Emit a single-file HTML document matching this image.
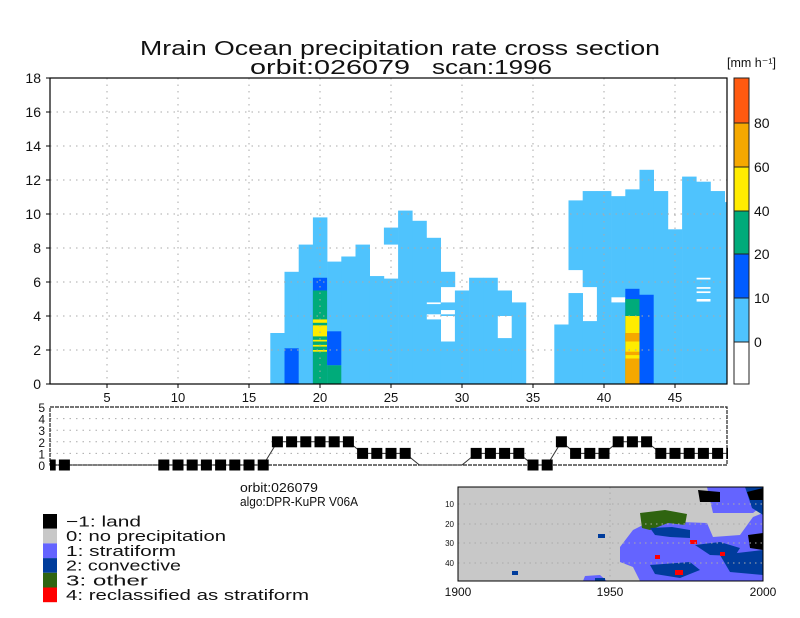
<!DOCTYPE html>
<html><head><meta charset="utf-8">
<style>
html,body{margin:0;padding:0;background:#fff;}
svg{display:block;font-family:"Liberation Sans",sans-serif;}
</style></head>
<body>
<svg id="chart" width="800" height="618" viewBox="0 0 800 618" xmlns="http://www.w3.org/2000/svg">
  <rect x="0" y="0" width="800" height="618" fill="#fff"/>
  <text x="400" y="55" text-anchor="middle" font-size="20" textLength="520" lengthAdjust="spacingAndGlyphs" fill="#111">Mrain Ocean precipitation rate cross section</text>
  <text x="250" y="74" font-size="20" textLength="160" lengthAdjust="spacingAndGlyphs" fill="#111">orbit:026079</text>
  <text x="432" y="74" font-size="20" textLength="120" lengthAdjust="spacingAndGlyphs" fill="#111">scan:1996</text>
  <g id="main"></g>
  <g id="cbar"></g>
  <g id="types"></g>
  <text x="240" y="492" font-size="12.5" textLength="78" lengthAdjust="spacingAndGlyphs" fill="#111">orbit:026079</text>
  <text x="240" y="506" font-size="12.5" textLength="118" lengthAdjust="spacingAndGlyphs" fill="#111">algo:DPR-KuPR V06A</text>
  <g id="legend"></g>
  <g id="map"></g>
</svg>
<script>
// ---------- main cross-section data ----------
const segCol  = [17,18,18,19,20,20,20,20,20,20,20,20,21,21,21,22,23,24,25,25,26,27,28,28,28,29,29,29,29,30,31,32,33,33,34,37,38,38,39,39,40,41,41,42,42,42,42,42,42,42,43,43,44,45,47,47,47,47,47,46,48,49];
const segBot  = [0,0,0,0,0,0,0,3.6,2.8,2.5,2.2,1.9,0,1.1,0,0,0,0,0,8.2,0,0,0,4.1,4.8,0,4.0,4.35,5.7,0,0,0,0,4.0,0,0,0,6.7,0,5.7,0,0,5.1,0,0,0,0,2.5,1.7,0,0,0,0,0,0,5.0,5.45,5.7,6.25,0,0,0];
const segTop  = [3.0,6.6,2.1,8.2,9.8,6.25,5.5,3.8,3.45,2.6,2.3,2.0,7.2,3.1,1.1,7.5,8.2,6.35,6.2,9.2,10.2,9.6,3.8,4.7,8.6,2.5,4.1,4.8,6.6,5.5,6.25,6.25,2.7,5.5,4.8,3.5,5.35,10.8,3.7,11.35,11.35,4.8,11.05,11.45,5.6,5.0,4.0,3.0,1.9,1.5,12.6,5.25,11.35,9.1,4.85,5.35,5.6,6.15,11.9,12.2,11.35,10.7];
const segRate = [5,5,15,5,5,15,30,50,50,50,50,50,5,15,30,5,5,5,5,5,5,5,5,5,5,5,5,5,5,5,5,5,5,5,5,5,5,5,5,5,5,5,5,5,15,30,50,70,70,70,5,15,5,5,5,5,5,5,5,5,5,5];
const yTicks = [0,2,4,6,8,10,12,14,16,18];
const xTicks = [5,10,15,20,25,30,35,40,45];
const cbLevels = [0,10,20,40,60,80];
const cbColors = ["#ffffff","#4fc3fd","#005cff","#00ab7a","#ffec00","#f5a800","#ff5a10"];
// ---------- rain type data ----------
const typeCols = [1,2,3,4,5,6,7,8,9,10,11,12,13,14,15,16,17,18,19,20,21,22,23,24,25,26,27,28,29,30,31,32,33,34,35,36,37,38,39,40,41,42,43,44,45,46,47,48,49];
const typeVals = [0,0,null,null,null,null,null,null,0,0,0,0,0,0,0,0,2,2,2,2,2,2,1,1,1,1,null,null,null,null,1,1,1,1,0,0,2,1,1,1,2,2,2,1,1,1,1,1,1];
const typeTicks = [0,1,2,3,4,5];

const NS="http://www.w3.org/2000/svg";
function mk(tag,attrs,parent){const e=document.createElementNS(NS,tag);for(const k in attrs)e.setAttribute(k,attrs[k]);parent.appendChild(e);return e;}

const PL=50,PR=727,PT=78,PB=384;
const xs=v=>107+(v-5)*14.2;
const ys=v=>PB-v*17;
function rateColor(r){let i=0;for(let k=0;k<cbLevels.length;k++){if(r>=cbLevels[k])i=k+1;}return cbColors[i];}

const main=document.getElementById('main');
const defs=mk('defs',{},main);
const cp=mk('clipPath',{id:'plotclip'},defs);
mk('rect',{x:PL,y:PT,width:PR-PL,height:PB-PT},cp);
const cells=mk('g',{'clip-path':'url(#plotclip)'},main);
for(let i=0;i<segCol.length;i++){
  const x0=xs(segCol[i]-0.5),x1=xs(segCol[i]+0.5);
  const r=mk('rect',{x:x0,y:ys(segTop[i]),width:x1-x0+0.3,height:ys(segBot[i])-ys(segTop[i]),fill:rateColor(segRate[i])},cells);
  
  
}
xTicks.forEach(t=>{
  const l=mk('line',{x1:xs(t),x2:xs(t),y1:PT,y2:PB,stroke:'#aaa','stroke-width':1,'stroke-dasharray':'1.5,5'},main);
  
  
  const tk=mk('line',{x1:xs(t),x2:xs(t),y1:PB,y2:PB+4,stroke:'#000'},main);
  
  
  const tx=mk('text',{x:xs(t),y:PB+18,'text-anchor':'middle','font-size':13,fill:'#111'},main);
  tx.textContent=t;
  
  
});
yTicks.forEach(t=>{
  if(t>0&&t<18){
    const l=mk('line',{x1:PL,x2:PR,y1:ys(t),y2:ys(t),stroke:'#aaa','stroke-width':1,'stroke-dasharray':'1.5,5'},main);
    
    
  }
  const tk=mk('line',{x1:PL-4,x2:PL,y1:ys(t),y2:ys(t),stroke:'#000'},main);
  
  
  const tx=mk('text',{x:41,y:ys(t)+5,'text-anchor':'end','font-size':14,fill:'#111'},main);
  tx.textContent=t;
  
  
});
const fr=mk('rect',{x:PL,y:PT,width:PR-PL,height:PB-PT,fill:'none',stroke:'#000','stroke-width':1.2},main);



// colorbar
const cb=document.getElementById('cbar');
const cbY=[384,342,298,254,211,167,123,78];
for(let i=0;i<cbColors.length;i++){
  const r=mk('rect',{x:734,y:cbY[i+1],width:15,height:cbY[i]-cbY[i+1],fill:cbColors[i],stroke:'#222','stroke-width':1},cb);
  
  
}
cbLevels.forEach((v,i)=>{
  const t=mk('text',{x:754,y:cbY[i+1]+5,'font-size':14,fill:'#111'},cb);
  t.textContent=v;
  
  
});
const cbt=mk('text',{x:727,y:67,'font-size':12.5,fill:'#111'},cb);
cbt.textContent='[mm h\u207B\u00B9]';



// rain type panel
const TL=50,TR=727,TT=407,TB=465;
const yb=v=>TB-v*11.6;
const tg=document.getElementById('types');
const cp2=mk('clipPath',{id:'typeclip'},defs);
mk('rect',{x:TL,y:TT-8,width:TR-TL+1,height:TB-TT+16},cp2);
typeTicks.forEach(t=>{
  if(t>0&&t<5){
    const l=mk('line',{x1:TL,x2:TR,y1:yb(t),y2:yb(t),stroke:'#aaa','stroke-dasharray':'1.5,5'},tg);
    
    
  }
  const tx=mk('text',{x:45,y:yb(t)+5,'text-anchor':'end','font-size':12,fill:'#111'},tg);
  tx.textContent=t;
  
  
});
const tf=mk('rect',{x:TL,y:TT,width:TR-TL,height:TB-TT,fill:'none',stroke:'#222','stroke-width':1.2,'stroke-dasharray':'4,1'},tg);


const tin=mk('g',{'clip-path':'url(#typeclip)'},tg);
let d='';
typeCols.forEach((c,i)=>{const v=typeVals[i]===null?0:typeVals[i];d+=(i?'L':'M')+xs(c)+','+yb(v);});
const pl=mk('path',{d:d,fill:'none',stroke:'#333','stroke-width':1},tin);


typeCols.forEach((c,i)=>{
  if(typeVals[i]===null)return;
  const m=mk('rect',{x:xs(c)-5.5,y:yb(typeVals[i])-5.5,width:11,height:11,fill:'#000'},tin);
  
  
});

// legend
const legColors=['#000000','#c8c8c8','#6464ff','#003c9c','#2f6410','#ff0000'];
const legLabels=['\u22121: land','0: no precipitation','1: stratiform','2: convective','3: other','4: reclassified as stratiform'];
const legW=[75,160,110,115,82,243];
const lg=document.getElementById('legend');
legLabels.forEach((s,i)=>{
  const y=514+i*14.7;
  const r=mk('rect',{x:43,y:y,width:14,height:14.7,fill:legColors[i]},lg);
  
  
  const t=mk('text',{x:66,y:y+12.5,'font-size':15,fill:'#111',textLength:legW[i],lengthAdjust:'spacingAndGlyphs'},lg);
  t.textContent=s;
  
  
});

// swath map (approximate shapes)
const mp=document.getElementById('map');
const MX0=458,MX1=763,MY0=487,MY1=581;
mk('rect',{x:MX0,y:MY0,width:MX1-MX0,height:MY1-MY0,fill:'#c8c8c8'},mp);
const shapes=[
 ['#6464ff','620,547 633,530 653,520 680,522 707,523 713,537 740,535 753,517 763,513 763,581 640,581 633,567 620,562'],
 ['#6464ff','707,487 763,487 763,505 753,513 740,513 713,513 710,500'],
 ['#6464ff','583,581 585,576 600,575 607,581'],
 ['#2f6410','640,513 665,510 687,514 685,525 668,523 650,530 642,528'],
 ['#003c9c','650,528 672,527 690,530 690,538 670,537 655,535'],
 ['#003c9c','695,545 720,542 740,548 735,556 710,555'],
 ['#003c9c','650,565 690,562 700,570 680,578 655,574'],
 ['#003c9c','720,555 763,550 763,575 730,572'],
 ['#003c9c','745,487 763,487 763,515 752,508'],
 ['#003c9c','598,534 605,534 605,538 598,538'],
 ['#003c9c','512,571 518,571 518,575 512,575'],
 ['#003c9c','595,578 605,578 605,581 595,581'],
 ['#000000','698,490 720,492 720,502 700,502'],
 ['#000000','747,492 763,488 763,500 750,500'],
 ['#000000','748,535 763,533 763,550 750,548'],
 ['#ff0000','655,555 660,555 660,559 655,559'],
 ['#ff0000','675,570 683,570 683,575 675,575'],
 ['#ff0000','690,540 697,540 697,544 690,544'],
 ['#ff0000','720,552 725,552 725,556 720,556']
];
shapes.forEach(s=>{
  const p=mk('polygon',{points:s[1],fill:s[0]},mp);
  
  
});
[504,524,543,563].forEach(y=>{
  const l=mk('line',{x1:MX0,x2:MX1,y1:y,y2:y,stroke:'#aaa','stroke-dasharray':'1.5,4'},mp);
  
  
});
const vl=mk('line',{x1:610,x2:610,y1:MY0,y2:MY1,stroke:'#aaa','stroke-dasharray':'1.5,4'},mp);


const mfr=mk('rect',{x:MX0,y:MY0,width:MX1-MX0,height:MY1-MY0,fill:'none',stroke:'#000','stroke-width':1},mp);


[['10',507],['20',527],['30',546],['40',566]].forEach(a=>{
  const t=mk('text',{x:454,y:a[1],'text-anchor':'end','font-size':8,fill:'#111'},mp);
  t.textContent=a[0];
  
  
});
[['1900',458],['1950',610],['2000',763]].forEach(a=>{
  const t=mk('text',{x:a[1],y:596,'text-anchor':'middle','font-size':12,fill:'#111'},mp);
  t.textContent=a[0];
  
  
});
</script>
</body></html>
